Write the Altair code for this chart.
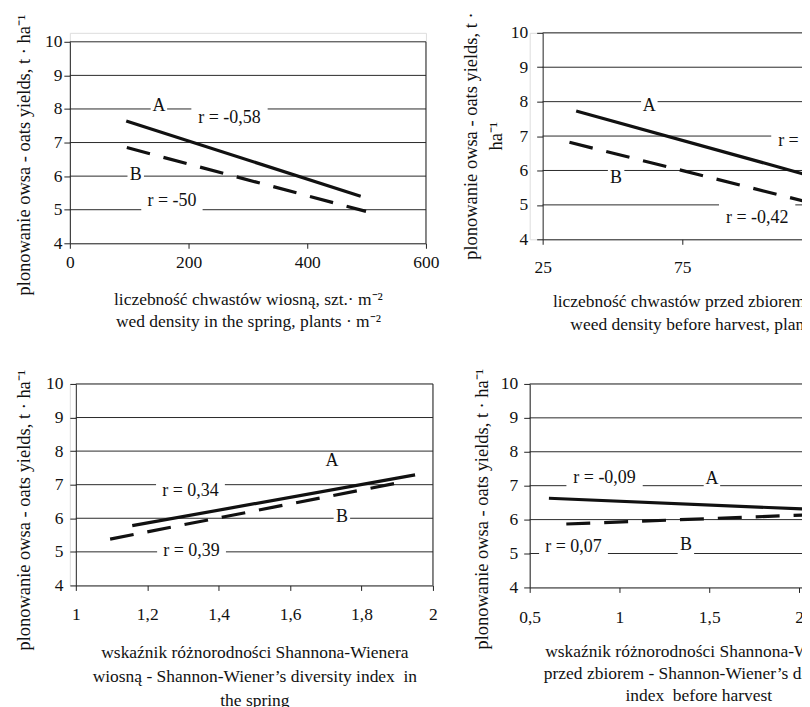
import altair as alt
import pandas as pd

FONT = "Liberation Serif"
INK = "#111111"

# ---------------- data ----------------
# panel 1: weed density in the spring
p1_xA = [95, 490]
p1_yA = [7.64, 5.40]
p1_xB = [96, 499]
p1_yB = [6.85, 4.95]
p1_lab = ["A", "r = -0,58", "B", "r = -50"]
p1_lx = [150, 269, 111, 172]
p1_ly = [8.10, 7.74, 6.02, 5.27]

# panel 2: weed density before harvest
p2_xA = [37, 125]
p2_yA = [7.73, 5.75]
p2_xB = [34.6, 125]
p2_yB = [6.82, 4.98]
p2_lab = ["A", "r = -0,55", "B", "r = -0,42"]
p2_lx = [63.2, 120.5, 51.3, 101.8]
p2_ly = [7.86, 6.86, 5.78, 4.62]

# panel 3: Shannon-Wiener index in the spring
p3_xA = [1.158, 1.95]
p3_yA = [5.78, 7.29]
p3_xB = [1.096, 1.90]
p3_yB = [5.38, 7.05]
p3_lab = ["A", "r = 0,34", "B", "r = 0,39"]
p3_lx = [1.717, 1.321, 1.745, 1.324]
p3_ly = [7.71, 6.82, 6.03, 5.02]

# panel 4: Shannon-Wiener index before harvest
p4_xA = [0.607, 2.15]
p4_yA = [6.63, 6.285]
p4_xB = [0.704, 2.15]
p4_yB = [5.87, 6.16]
p4_lab = ["r = -0,09", "A", "r = 0,07", "B"]
p4_lx = [0.917, 1.515, 0.744, 1.37]
p4_ly = [7.24, 7.20, 5.19, 5.24]

y_ticks = [4, 5, 6, 7, 8, 9, 10]
grid_y = [5, 6, 7, 8, 9, 10]
ytitle = "plonowanie owsa - oats yields, t · ha⁻¹"


def panel(xA, yA, xB, yB, labs, lx, ly, xdom, xvals, xtitle, ytitle_, *,
          width, height, xrange=None, yrange=None, yoffset=0,
          ylabpad=3, xlabpad=3, xtitleX=None, xtitleY=50, xlh=23,
          ytitleX=-44, ytitleY=110, ylh=22, border=True, boxh=None,
          markers=None):
    boxh = boxh or {}
    sx = dict(domain=xdom, nice=False, zero=False)
    if xrange is not None:
        sx["range"] = xrange
    sy = dict(domain=[4, 10], nice=False, zero=False)
    if yrange is not None:
        sy["range"] = yrange

    xaxis_kw = dict(
        values=xvals,
        labelExpr="replace(format(datum.value, '~g'), '.', ',')",
        title=xtitle, titleY=xtitleY, titleBaseline="top", titleAlign="center",
        titleLineHeight=xlh, titleFontSize=17.5, titleFontWeight="normal",
        titleFont=FONT, titleColor=INK,
        labelFont=FONT, labelFontSize=17.5, labelColor=INK, labelPadding=xlabpad,
        labelFlush=False, labelOverlap=False,
        tickSize=5, tickColor="#222", domainColor="#222", grid=False,
    )
    if xtitleX is not None:
        xaxis_kw["titleX"] = xtitleX
    xaxis = alt.Axis(**xaxis_kw)
    yaxis = alt.Axis(
        values=y_ticks, title=ytitle_, titleX=ytitleX, titleY=ytitleY,
        titleBaseline="middle", titleAlign="center", titleAngle=270,
        titleLineHeight=ylh, titleFontSize=18.5, titleFontWeight="normal",
        titleFont=FONT, titleColor=INK,
        labelFont=FONT, labelFontSize=17.5, labelColor=INK, labelPadding=ylabpad,
        labelFlush=False, labelOverlap=False,
        tickSize=6, tickColor="#222", domainColor="#222",
        grid=False, offset=yoffset,
    )
    X = alt.X("x:Q", scale=alt.Scale(**sx), axis=xaxis)
    Y = alt.Y("y:Q", scale=alt.Scale(**sy), axis=yaxis)

    lines = pd.DataFrame({
        "x": xA + xB, "y": yA + yB,
        "s": ["A"] * len(xA) + ["B"] * len(xB),
    })
    labels = pd.DataFrame({"x": lx, "y": ly, "t": labs})
    grid = pd.DataFrame({"x": [xdom[0]] * len(grid_y),
                         "x2": [xdom[1]] * len(grid_y), "y": grid_y})

    layers = [
        alt.Chart(grid).mark_rule(color="#2a2a2a", strokeWidth=1)
        .encode(x=X, x2=alt.X2("x2"), y=Y)
    ]
    if border:
        bd = pd.DataFrame({"x": [xdom[1]], "y": [4], "y2": [10]})
        layers.append(
            alt.Chart(bd).mark_rule(color="#222", strokeWidth=1)
            .encode(x=X, y=Y, y2=alt.Y2("y2"))
        )
    # white label boxes hiding the gridlines
    for t, x, y in zip(labs, lx, ly):
        w = len(t) * 7.5 + 9
        h = boxh.get(t, 22)
        d = pd.DataFrame({"x": [x], "y": [y]})
        layers.append(
            alt.Chart(d).mark_rect(color="white", xOffset=-w / 2, x2Offset=w / 2,
                                   yOffset=-h / 2, y2Offset=h / 2)
            .encode(x=X, x2=alt.X2("x"), y=Y, y2=alt.Y2("y"))
        )
    layers.append(
        alt.Chart(lines[lines.s == "A"]).mark_line(color="#111", strokeWidth=3.2, clip=True)
        .encode(x=X, y=Y)
    )
    layers.append(
        alt.Chart(lines[lines.s == "B"]).mark_line(color="#111", strokeWidth=3.2,
                                                   strokeDash=[24, 14], clip=True)
        .encode(x=X, y=Y)
    )
    layers.append(
        alt.Chart(labels).mark_text(font=FONT, fontSize=18, color=INK,
                                    align="center", baseline="middle")
        .encode(x=X, y=Y, text="t:N")
    )
    if markers is not None:
        # invisible corner markers fixing the page frame
        mx, my = markers
        layers.append(
            alt.Chart(pd.DataFrame({"x": [0]})).mark_rule(opacity=0, strokeWidth=0)
            .encode(x=alt.value(mx), x2=alt.value(mx), y=alt.value(my), y2=alt.value(my))
        )
    return alt.layer(*layers).properties(width=width, height=height)


c1 = panel(p1_xA, p1_yA, p1_xB, p1_yB, p1_lab, p1_lx, p1_ly,
           [0, 600], [0, 200, 400, 600],
           ["liczebność chwastów wiosną, szt.· m⁻²",
            "wed density in the spring, plants · m⁻²"],
           ytitle,
           width=357, height=211, yrange=[211, 9],
           ylabpad=2, xlabpad=5, xtitleY=47, xlh=22,
           ytitleX=-46, ytitleY=122, markers=(-161, -123))

c2 = panel(p2_xA, p2_yA, p2_xB, p2_yB, p2_lab, p2_lx, p2_ly,
           [25, 125], [25, 75, 125],
           ["liczebność chwastów przed zbiorem, szt.· m⁻²",
            "weed density before harvest, plants · m⁻²"],
           ["plonowanie owsa - oats yields, t ·", "ha⁻¹"],
           width=293, height=207, xrange=[13, 293], yoffset=-13,
           ylabpad=9, xlabpad=14, xtitleX=183, xtitleY=53, xlh=23,
           ytitleX=-72, ytitleY=103, ylh=25, boxh={"r = -0,42": 30})

c3 = panel(p3_xA, p3_yA, p3_xB, p3_yB, p3_lab, p3_lx, p3_ly,
           [1, 2], [1, 1.2, 1.4, 1.6, 1.8, 2],
           ["wskaźnik różnorodności Shannona-Wienera",
            "wiosną - Shannon-Wiener’s diversity index\u00a0 in",
            "the spring"],
           ytitle,
           width=364, height=202, xrange=[6, 364], yoffset=-6,
           ylabpad=7, xlabpad=15, xtitleY=58, xlh=24,
           ytitleX=-52, ytitleY=126, boxh={"A": 12})

c4 = panel(p4_xA, p4_yA, p4_xB, p4_yB, p4_lab, p4_lx, p4_ly,
           [0.5, 2.5], [0.5, 1, 1.5, 2, 2.5],
           ["wskaźnik różnorodności Shannona-Wienera",
            "przed zbiorem - Shannon-Wiener’s diversity",
            "index\u00a0 before harvest"],
           ytitle,
           width=360, height=204,
           ylabpad=6, xlabpad=16, xtitleX=169, xtitleY=55, xlh=22,
           ytitleX=-48, ytitleY=125, markers=(470, 417))

chart = (
    alt.concat(c1, c2, c3, c4, columns=2, bounds="flush",
               spacing={"row": 141, "column": 97})
    .properties(padding={"left": -100, "top": -100, "right": -198, "bottom": -93})
    .configure_view(strokeWidth=0)
    .configure(font=FONT, background="white")
)

chart.save("out.html", embed_options={"renderer": "svg", "actions": False})
